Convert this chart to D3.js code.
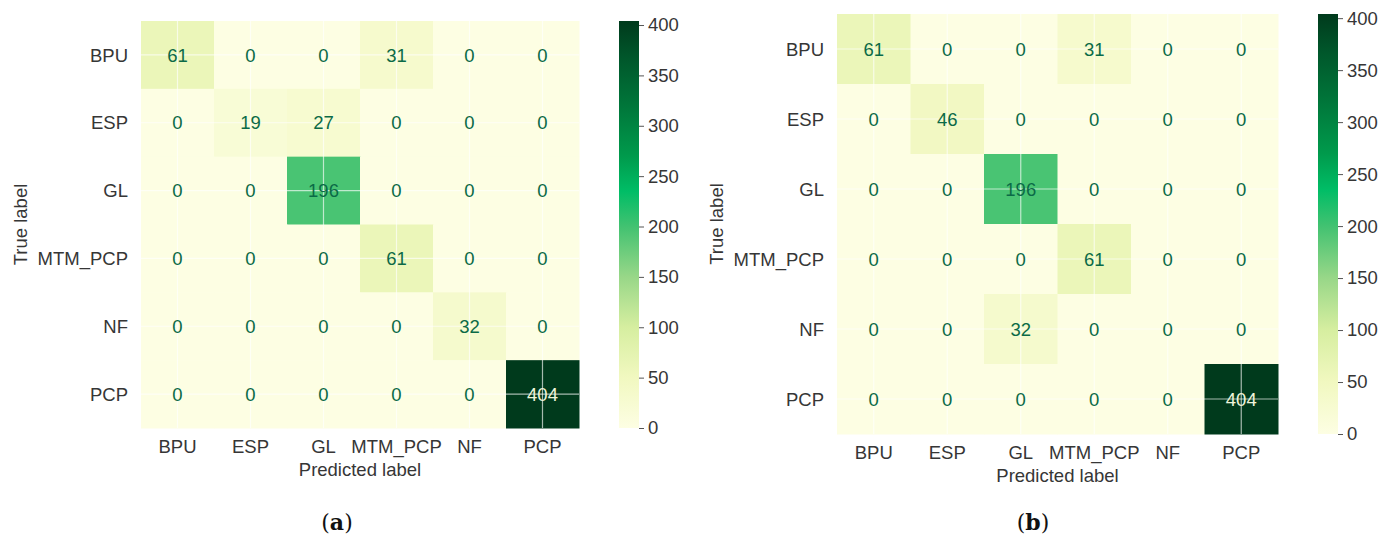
<!DOCTYPE html>
<html>
<head>
<meta charset="utf-8">
<script src="https://cdn.jsdelivr.net/npm/d3@7"></script>
<style>
  body { margin: 0; background: #fff; }
  svg text { font-family: "Liberation Sans", Arial, sans-serif; }
</style>
</head>
<body>
<svg id="chart" width="1394" height="535"></svg>
<script>
// Classes (rows = true label, cols = predicted label)
const categories = ['BPU', 'ESP', 'GL', 'MTM_PCP', 'NF', 'PCP']

// Confusion matrix (a)
const matrix_a = [
  [61, 0, 0, 31, 0, 0],
  [0, 19, 27, 0, 0, 0],
  [0, 0, 196, 0, 0, 0],
  [0, 0, 0, 61, 0, 0],
  [0, 0, 0, 0, 32, 0],
  [0, 0, 0, 0, 0, 404]
]

// Confusion matrix (b)
const matrix_b = [
  [61, 0, 0, 31, 0, 0],
  [0, 46, 0, 0, 0, 0],
  [0, 0, 196, 0, 0, 0],
  [0, 0, 0, 61, 0, 0],
  [0, 0, 32, 0, 0, 0],
  [0, 0, 0, 0, 0, 404]
]

const colorbar_ticks = [0, 50, 100, 150, 200, 250, 300, 350, 400]
const value_max = 404

// Colour map (yellow -> green), as seen on the colorbar
const cmap_stops = [0, 50, 100, 150, 200, 235, 270, 320, 370, 404]
const cmap_colors = ['#fdfee3', '#f1f8c0', '#d6eea0', '#98d788', '#42c271',
  '#00bd66', '#009a4c', '#00763a', '#00552a', '#003a1c']

const color = d3.scaleLinear().domain(cmap_stops).range(cmap_colors)

const font_size = 18.5
const text_color = '#363636'

const svg = d3.select('#chart')

// Panel layouts
const panels = [
  { id: 'a', data: matrix_a, x0: 141, x1: 579, y0: 21, y1: 428,
    cb_x: 619, y_title_x: 20, caption_x: 337 },
  { id: 'b', data: matrix_b, x0: 837, x1: 1278, y0: 14, y1: 434,
    cb_x: 1318, y_title_x: 716, caption_x: 1033 }
]

const defs = svg.append('defs')

for (let p of panels) {
  draw_panel(p)
}

function draw_panel(p) {

  let g = svg.append('g').attr('id', `panel-${p.id}`)

  let x = d3.scaleBand().domain(categories).range([p.x0, p.x1])
  let y = d3.scaleBand().domain(categories).range([p.y0, p.y1])

  let cells = []
  p.data.forEach((row, i) => {
    row.forEach((v, j) => {
      cells.push({ row: categories[i], col: categories[j], value: v })
    })
  })

  // Cells
  g.selectAll('rect.cell')
    .data(cells)
    .enter()
    .append('rect')
      .attr('class', 'cell')
      .attr('x', d => x(d.col))
      .attr('y', d => y(d.row))
      .attr('width', x.bandwidth() + 0.5)
      .attr('height', y.bandwidth() + 0.5)
      .attr('fill', d => color(d.value))

  // Grid lines through tick positions
  let grid = g.append('g').attr('class', 'grid')
  grid.selectAll('line.vx')
    .data(categories)
    .enter()
    .append('line')
      .attr('x1', d => x(d) + x.bandwidth() / 2)
      .attr('x2', d => x(d) + x.bandwidth() / 2)
      .attr('y1', p.y0)
      .attr('y2', p.y1)
  grid.selectAll('line.hy')
    .data(categories)
    .enter()
    .append('line')
      .attr('y1', d => y(d) + y.bandwidth() / 2)
      .attr('y2', d => y(d) + y.bandwidth() / 2)
      .attr('x1', p.x0)
      .attr('x2', p.x1)
  grid.selectAll('line')
    .attr('stroke', '#ffffff')
    .attr('stroke-opacity', 0.65)
    .attr('stroke-width', 1.2)

  // Annotations
  g.selectAll('text.ann')
    .data(cells)
    .enter()
    .append('text')
      .attr('class', 'ann')
      .attr('x', d => x(d.col) + x.bandwidth() / 2)
      .attr('y', d => y(d.row) + y.bandwidth() / 2)
      .attr('dy', '0.36em')
      .attr('text-anchor', 'middle')
      .attr('font-size', font_size)
      .attr('fill', d => d.value > value_max / 2 + 100 ? '#eef4da' : '#0b6a47')
      .text(d => d.value)

  // Tick labels
  g.selectAll('text.ylab')
    .data(categories)
    .enter()
    .append('text')
      .attr('class', 'ylab')
      .attr('x', p.x0 - 13)
      .attr('y', d => y(d) + y.bandwidth() / 2)
      .attr('dy', '0.36em')
      .attr('text-anchor', 'end')
      .attr('font-size', font_size)
      .attr('fill', text_color)
      .text(d => d)

  g.selectAll('text.xlab')
    .data(categories)
    .enter()
    .append('text')
      .attr('class', 'xlab')
      .attr('x', d => x(d) + x.bandwidth() / 2)
      .attr('y', p.y1 + 18)
      .attr('dy', '0.36em')
      .attr('text-anchor', 'middle')
      .attr('font-size', font_size)
      .attr('fill', text_color)
      .text(d => d)

  // Axis titles
  g.append('text')
    .attr('x', (p.x0 + p.x1) / 2)
    .attr('y', p.y1 + 41)
    .attr('dy', '0.36em')
    .attr('text-anchor', 'middle')
    .attr('font-size', font_size)
    .attr('fill', text_color)
    .text('Predicted label')

  g.append('text')
    .attr('transform', `translate(${p.y_title_x}, ${(p.y0 + p.y1) / 2}) rotate(-90)`)
    .attr('dy', '0.36em')
    .attr('text-anchor', 'middle')
    .attr('font-size', font_size)
    .attr('fill', text_color)
    .text('True label')

  // Colorbar
  let cb = d3.scaleLinear().domain([0, value_max]).range([p.y1, p.y0])
  let grad = defs.append('linearGradient')
    .attr('id', `grad-${p.id}`)
    .attr('x1', 0).attr('x2', 0)
    .attr('y1', 1).attr('y2', 0)
  grad.selectAll('stop')
    .data(cmap_stops)
    .enter()
    .append('stop')
      .attr('offset', d => d / value_max)
      .attr('stop-color', d => color(d))

  g.append('rect')
    .attr('x', p.cb_x)
    .attr('y', p.y0)
    .attr('width', 20)
    .attr('height', p.y1 - p.y0)
    .attr('fill', `url(#grad-${p.id})`)

  let axis = g.append('g')
    .attr('transform', `translate(${p.cb_x + 20}, 0)`)
    .call(d3.axisRight(cb).tickValues(colorbar_ticks).tickSize(5).tickPadding(4))
  axis.select('.domain').remove()
  axis.selectAll('line').attr('stroke', '#555')
  axis.selectAll('text')
    .attr('font-size', font_size)
    .attr('fill', text_color)
    .attr('font-family', '"Liberation Sans", Arial, sans-serif')

  // Caption
  let cap = g.append('text')
    .attr('x', p.caption_x)
    .attr('y', 530)
    .attr('text-anchor', 'middle')
    .attr('font-size', 22)
    .attr('fill', '#111')
    .style('font-family', '"DejaVu Serif", "Liberation Serif", serif')
  cap.append('tspan').text('(')
  cap.append('tspan').attr('font-weight', 'bold').text(p.id)
  cap.append('tspan').text(')')
}
</script>
</body>
</html>
